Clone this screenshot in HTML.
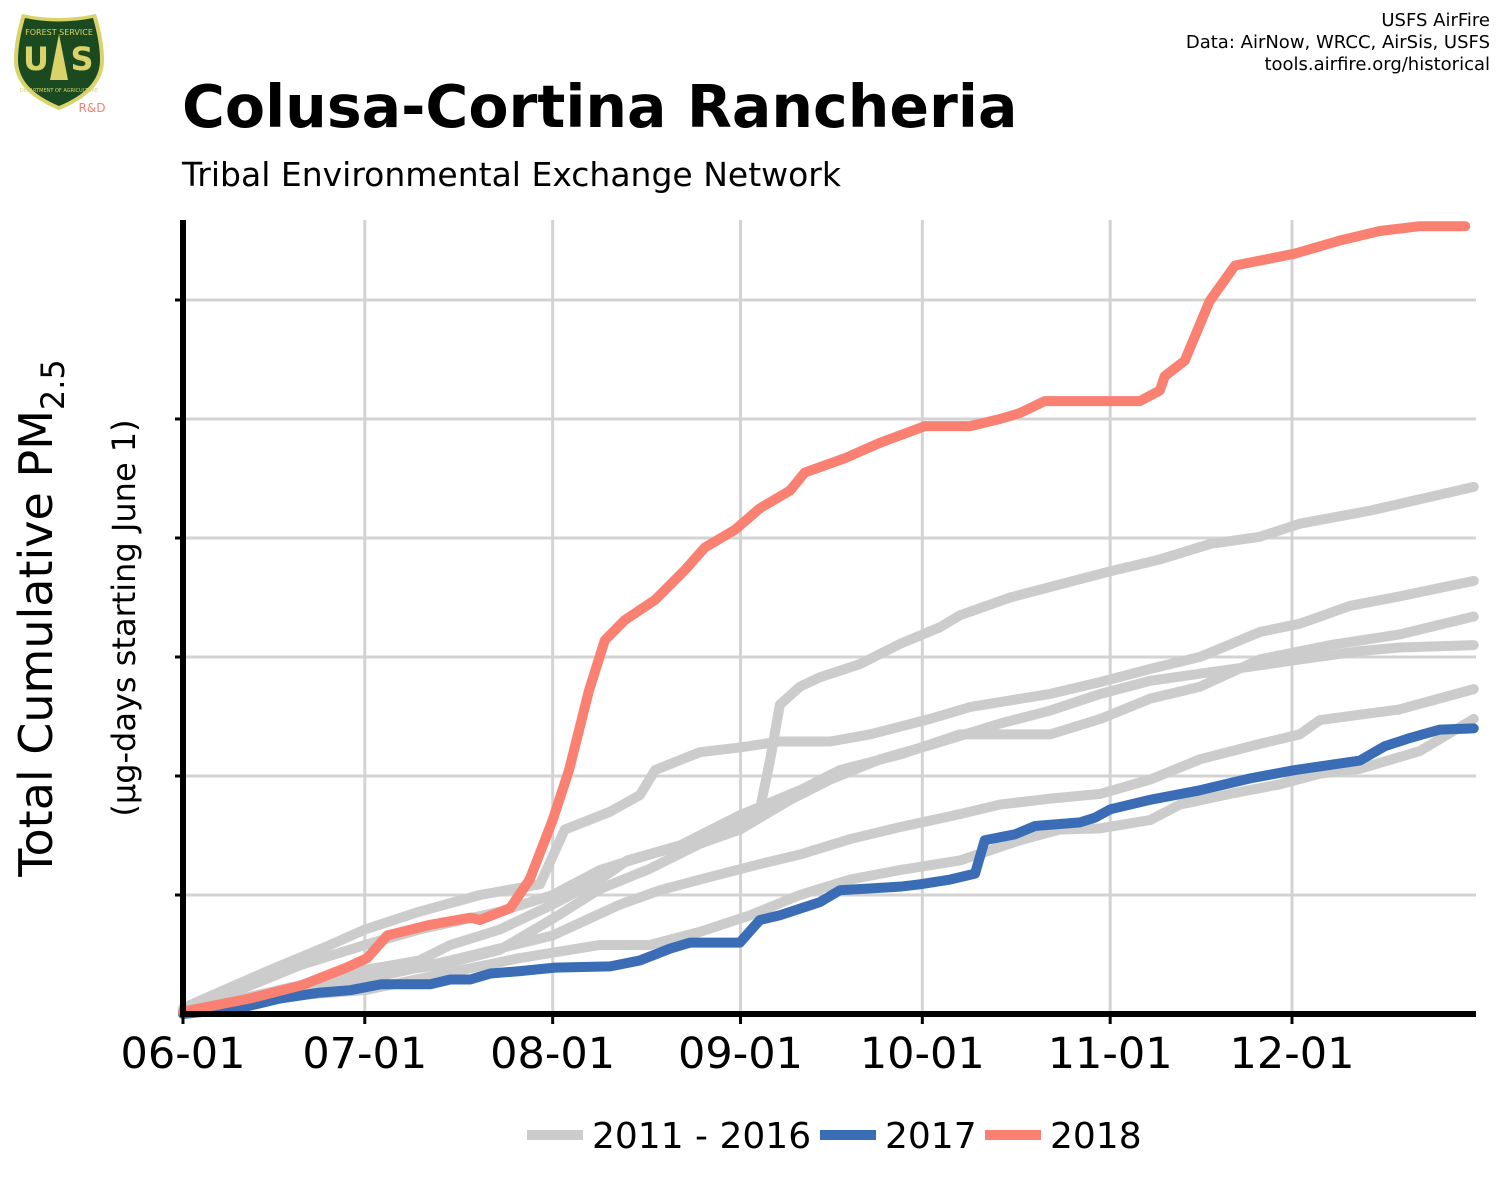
<!DOCTYPE html>
<html><head><meta charset="utf-8"><style>
body{margin:0;background:#fff;font-family:"DejaVu Sans","Liberation Sans",sans-serif}
svg text{font-family:"DejaVu Sans","Liberation Sans",sans-serif}
</style></head><body>
<svg id="chart" width="1500" height="1200" xmlns="http://www.w3.org/2000/svg">
<g>
<path d="M22,14 Q58,22 96,14 Q104,40 104,60 Q104,92 59,110 Q14,92 14,60 Q14,40 22,14Z" fill="#d9d36a"/>
<path d="M25,18 Q58,25 93,18 Q100,42 100,60 Q100,89 59,106 Q18,89 18,60 Q18,42 25,18Z" fill="#1c4a20"/>
<text x="59" y="35" font-size="8" fill="#d9d36a" text-anchor="middle">FOREST SERVICE</text>
<text x="36" y="70" font-size="32" font-weight="bold" fill="#d9d36a" text-anchor="middle">U</text>
<text x="82" y="70" font-size="32" font-weight="bold" fill="#d9d36a" text-anchor="middle">S</text>
<path d="M59,34 L68,80 L50,80Z" fill="#d9d36a"/>
<text x="59" y="92" font-size="5" fill="#d9d36a" text-anchor="middle">DEPARTMENT OF AGRICULTURE</text>
<text x="92" y="112" font-size="12" fill="#f88070" text-anchor="middle">R&amp;D</text>
</g>
<text x="1490" y="26" font-size="18" text-anchor="end">USFS AirFire</text>
<text x="1490" y="48" font-size="18" text-anchor="end">Data: AirNow, WRCC, AirSis, USFS</text>
<text x="1490" y="70" font-size="18" text-anchor="end">tools.airfire.org/historical</text>
<text x="182" y="127" font-size="58.5" font-weight="bold">Colusa-Cortina Rancheria</text>
<text x="182" y="186" font-size="33">Tribal Environmental Exchange Network</text>
<text transform="translate(52,618) rotate(-90)" font-size="46" text-anchor="middle">Total Cumulative PM<tspan font-size="32" dy="12">2.5</tspan></text>
<text transform="translate(135,618) rotate(-90)" font-size="32" text-anchor="middle">(µg-days starting June 1)</text>
<g id="grid"></g><g id="series"></g><g id="axes"></g>
<g>
<line x1="527" y1="1135" x2="583" y2="1135" stroke="#cccccc" stroke-width="10"/>
<text x="592" y="1148" font-size="36">2011 - 2016</text>
<line x1="820" y1="1135" x2="876" y2="1135" stroke="#3a6db5" stroke-width="10"/>
<text x="885" y="1148" font-size="36">2017</text>
<line x1="985" y1="1135" x2="1041" y2="1135" stroke="#fa8072" stroke-width="10"/>
<text x="1050" y="1148" font-size="36">2018</text>
</g>
</svg>
<script>
const xTickDays=[0,30,61,92,122,153,183];
const xTickLabels=["06-01","07-01","08-01","09-01","10-01","11-01","12-01"];
const yTicks=[0,1,2,3,4,5,6];
// series as [day, value] pairs (value in gridline units)
const s2018=[[0,0.02],[11,0.13],[19.5,0.24],[27,0.39],[30.4,0.47],[33.7,0.66],[40.8,0.75],[47.4,0.81],[49,0.79],[54,0.89],[57.2,1.13],[61,1.63],[63.7,2.05],[67,2.72],[69.6,3.14],[72.9,3.31],[77.9,3.48],[82.8,3.73],[86.1,3.92],[91.1,4.07],[95.2,4.25],[100.2,4.4],[102.6,4.55],[109.2,4.67],[115,4.8],[122.4,4.94],[129.9,4.94],[134.8,5.0],[138.1,5.05],[142.2,5.15],[157.9,5.15],[161.2,5.24],[162,5.36],[165.3,5.49],[169.4,5.99],[173.6,6.29],[183.5,6.39],[190.9,6.5],[197.5,6.58],[204.1,6.62],[211.6,6.62]];
const s2017=[[0,0],[9.4,0.05],[16,0.13],[22.6,0.18],[27.6,0.2],[32.7,0.25],[40.8,0.25],[44.1,0.29],[47.4,0.29],[50.7,0.34],[55.6,0.36],[61.4,0.39],[70.5,0.4],[75.4,0.45],[80.4,0.55],[83.7,0.6],[91.9,0.6],[95.2,0.79],[98.5,0.83],[105.1,0.94],[108.4,1.04],[118.3,1.07],[121.6,1.09],[126.6,1.13],[130.7,1.18],[132.3,1.46],[137.3,1.51],[140.6,1.58],[148,1.61],[150.5,1.65],[153,1.72],[159.6,1.8],[167.8,1.88],[176.1,1.98],[183.5,2.05],[194.2,2.13],[198.3,2.25],[202.5,2.32],[207.4,2.39],[213,2.4]];
const gA=[[0,0.03],[11.1,0.24],[19.3,0.41],[30,0.58],[39,0.71],[52.3,0.86],[61,1.0],[68.8,1.21],[77,1.34],[85.3,1.46],[91.9,1.59],[95.2,1.72],[96.9,2.14],[98.5,2.6],[101.8,2.75],[105.1,2.83],[111.7,2.94],[118.3,3.11],[124.9,3.25],[128.2,3.35],[136.5,3.5],[144.7,3.61],[153,3.72],[161.2,3.82],[169.5,3.95],[177.7,4.01],[184.3,4.12],[195.9,4.23],[213,4.43]];
const gB=[[0,0.05],[14.4,0.37],[24.3,0.58],[30,0.71],[39,0.86],[49,1.0],[58.9,1.09],[63,1.55],[70.5,1.7],[75.4,1.84],[77.9,2.05],[85.3,2.2],[91.9,2.24],[98.5,2.29],[106.8,2.29],[113.4,2.35],[123.3,2.48],[129.9,2.58],[143.1,2.69],[151.4,2.79],[159.6,2.9],[167.8,3.0],[177.7,3.21],[184.3,3.28],[192.6,3.43],[200.8,3.51],[213,3.64]];
const gC=[[0,0.02],[19.3,0.24],[30,0.37],[39,0.45],[44.1,0.58],[52.3,0.71],[61,0.92],[68.8,1.13],[73.3,1.29],[82.2,1.42],[91.9,1.67],[101.8,1.88],[108.4,2.05],[118.3,2.18],[128.2,2.35],[143.1,2.35],[151.4,2.48],[159.6,2.65],[167.8,2.75],[177.7,2.98],[189.3,3.1],[200.8,3.19],[213,3.34]];
const gD=[[0,0.02],[19.3,0.2],[30,0.33],[42.4,0.41],[52.3,0.54],[61,0.8],[68.8,1.05],[77,1.22],[85.3,1.43],[91.9,1.55],[100.2,1.8],[106.8,1.97],[115,2.14],[123.3,2.26],[134.8,2.44],[143.1,2.55],[151.4,2.69],[159.6,2.8],[167.8,2.86],[177.7,2.93],[184.3,2.98],[194.2,3.05],[200.8,3.08],[213,3.1]];
const gE=[[0,0.02],[19.3,0.16],[30,0.2],[44.1,0.35],[55.6,0.47],[68.8,0.58],[77,0.58],[85.3,0.69],[93.6,0.83],[101.8,1.0],[110.1,1.13],[118.3,1.21],[128.2,1.29],[138.1,1.46],[144.7,1.55],[151.4,1.56],[159.6,1.63],[164.5,1.76],[172.8,1.85],[181,1.93],[187.6,2.02],[194.2,2.06],[204.1,2.21],[213,2.48]];
const gF=[[0,0.02],[19.3,0.2],[30,0.29],[44.1,0.45],[61,0.66],[72.1,0.92],[78.7,1.04],[85.3,1.13],[95.2,1.26],[101.8,1.34],[110.1,1.47],[118.3,1.57],[128.2,1.68],[134.8,1.76],[143.1,1.81],[151.4,1.85],[159.6,1.97],[167.8,2.14],[177.7,2.27],[184.3,2.35],[187.6,2.47],[200.8,2.56],[213,2.73]];
</script>
<script>
const NS="http://www.w3.org/2000/svg";
const X0=183,PXD=6.06,Y0=1014,PXV=119,XR=1476;
const xs=d=>X0+d*PXD, ys=v=>Y0-v*PXV;
const grid=document.getElementById('grid'),ser=document.getElementById('series'),axes=document.getElementById('axes');
function mk(tag,attrs,parent){const e=document.createElementNS(NS,tag);for(const k in attrs)e.setAttribute(k,attrs[k]);parent.appendChild(e);return e;}
yTicks.forEach(v=>{if(v===0)return;
 const l=mk('line',{x1:X0,x2:XR,y1:ys(v),y2:ys(v),stroke:'#d3d3d3','stroke-width':3},grid);
 
 
 const t=mk('line',{x1:X0-8,x2:X0,y1:ys(v),y2:ys(v),stroke:'#000','stroke-width':3},axes);
 
 });
xTickDays.forEach((d,i)=>{
 if(d>0){const l=mk('line',{x1:xs(d),x2:xs(d),y1:220,y2:Y0,stroke:'#d3d3d3','stroke-width':3},grid);
 
 }
 const t=mk('line',{x1:xs(d),x2:xs(d),y1:Y0,y2:Y0+10,stroke:'#000','stroke-width':3},axes);
 
 
 const tx=mk('text',{x:xs(d),y:1068,'font-size':43,'text-anchor':'middle'},axes);
 tx.textContent=xTickLabels[i];
 
 });
function line(data,color,w,name){
 const p=mk('polyline',{points:data.map(p=>xs(p[0])+','+ys(p[1])).join(' '),fill:'none',stroke:color,'stroke-width':w,'stroke-linejoin':'round','stroke-linecap':'round'},ser);
 
 }
[gA,gB,gC,gD,gE,gF].forEach((g,i)=>line(g,'#cccccc',10,'series-gray-'+(i+1)));
line(s2017,'#3a6db5',10,'series-2017');
line(s2018,'#fa8072',10,'series-2018');
const ya=mk('line',{x1:X0,x2:X0,y1:220,y2:Y0+3,stroke:'#000','stroke-width':6},axes);


const xa=mk('line',{x1:X0-3,x2:XR,y1:Y0,y2:Y0,stroke:'#000','stroke-width':6},axes);


</script>
</body></html>
